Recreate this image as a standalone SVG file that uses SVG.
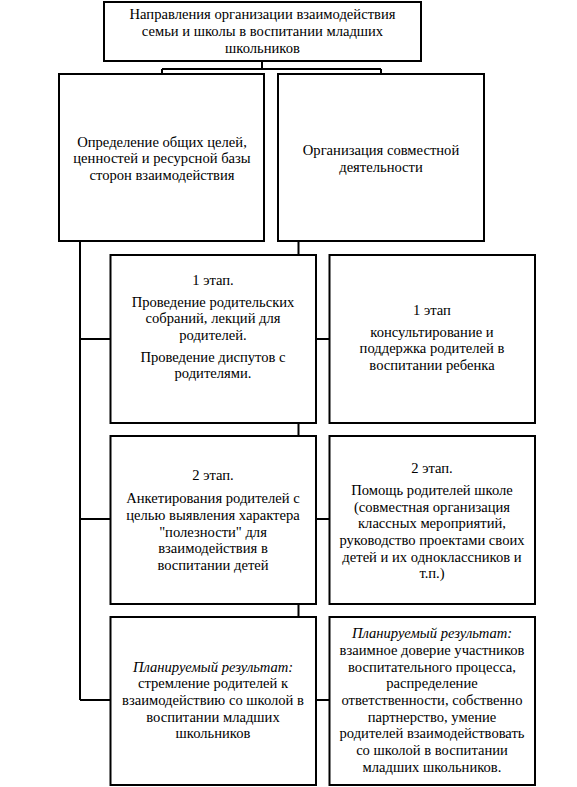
<svg xmlns="http://www.w3.org/2000/svg" width="577" height="787" viewBox="0 0 577 787">
<style>
.box{fill:#fff;stroke:#000;stroke-width:2}
.ln{fill:none;stroke:#000;stroke-width:2}
.t text{font-size:14.6px;fill:#000;text-anchor:middle}
.it{font-style:italic}
</style>
<rect width="577" height="787" fill="#fff"/>
<g id="connectors">
<path class="ln" d="M262 61V69M162 69H381M162 69V74M381 69V74"/>
<path class="ln" d="M80 241V700M80 339H110.5M80 519H110.5M80 700H110.5"/>
<path class="ln" d="M298.5 241V255M298.5 423V436M298.5 604V617"/>
<path class="ln" d="M316 339H329.5M316 519H329.5M316 700H329.5"/>
</g>
<g class="t" font-family="Liberation Serif">
<g id="top">
<rect class="box" x="104" y="2" width="317" height="59"/>
<text x="262.5" y="19.3">Направления организации взаимодействия</text>
<text x="262.5" y="36">семьи и школы в воспитании младших</text>
<text x="262.5" y="52.7">школьников</text>
</g>
<g id="goals">
<rect class="box" x="59" y="74" width="205" height="167"/>
<text x="162" y="146.7">Определение общих целей,</text>
<text x="162" y="163.3">ценностей и ресурсной базы</text>
<text x="162" y="180">сторон взаимодействия</text>
</g>
<g id="activity">
<rect class="box" x="278" y="74" width="206" height="167"/>
<text x="381" y="155">Организация совместной</text>
<text x="381" y="171.7">деятельности</text>
</g>
<g id="stage1-left">
<rect class="box" x="110.5" y="255" width="205.5" height="168"/>
<text x="213" y="285">1 этап.</text>
<text x="213" y="306.7">Проведение родительских</text>
<text x="213" y="323.3">собраний, лекций для</text>
<text x="213" y="340">родителей.</text>
<text x="213" y="361.7">Проведение диспутов с</text>
<text x="213" y="378.3">родителями.</text>
</g>
<g id="stage1-right">
<rect class="box" x="329.5" y="255" width="205.5" height="168"/>
<text x="432" y="315">1 этап</text>
<text x="432" y="336.7">консультирование и</text>
<text x="432" y="353.3">поддержка родителей в</text>
<text x="432" y="370">воспитании ребенка</text>
</g>
<g id="stage2-left">
<rect class="box" x="110.5" y="436" width="205.5" height="168"/>
<text x="213" y="480">2 этап.</text>
<text x="213" y="503.3">Анкетирования родителей с</text>
<text x="213" y="520">целью выявления характера</text>
<text x="213" y="536.7">"полезности" для</text>
<text x="213" y="553.3">взаимодействия в</text>
<text x="213" y="570">воспитании детей</text>
</g>
<g id="stage2-right">
<rect class="box" x="329.5" y="436" width="205.5" height="168"/>
<text x="432" y="473.3">2 этап.</text>
<text x="432" y="495">Помощь родителей школе</text>
<text x="432" y="511.7">(совместная организация</text>
<text x="432" y="528.3">классных мероприятий,</text>
<text x="432" y="545">руководство проектами своих</text>
<text x="432" y="561.7">детей и их одноклассников и</text>
<text x="432" y="578.3">т.п.)</text>
</g>
<g id="result-left">
<rect class="box" x="110.5" y="617" width="205.5" height="168"/>
<text class="it" x="213" y="671.7">Планируемый результат:</text>
<text x="213" y="688.3">стремление родителей к</text>
<text x="213" y="705">взаимодействию со школой в</text>
<text x="213" y="721.7">воспитании младших</text>
<text x="213" y="738.3">школьников</text>
</g>
<g id="result-right">
<rect class="box" x="329.5" y="617" width="205.5" height="168"/>
<text class="it" x="432" y="638.3">Планируемый результат:</text>
<text x="432" y="655">взаимное доверие участников</text>
<text x="432" y="671.7">воспитательного процесса,</text>
<text x="432" y="688.3">распределение</text>
<text x="432" y="705">ответственности, собственно</text>
<text x="432" y="721.7">партнерство, умение</text>
<text x="432" y="738.3">родителей взаимодействовать</text>
<text x="432" y="755">со школой в воспитании</text>
<text x="432" y="771.7">младших школьников.</text>
</g>
</g>
</svg>
